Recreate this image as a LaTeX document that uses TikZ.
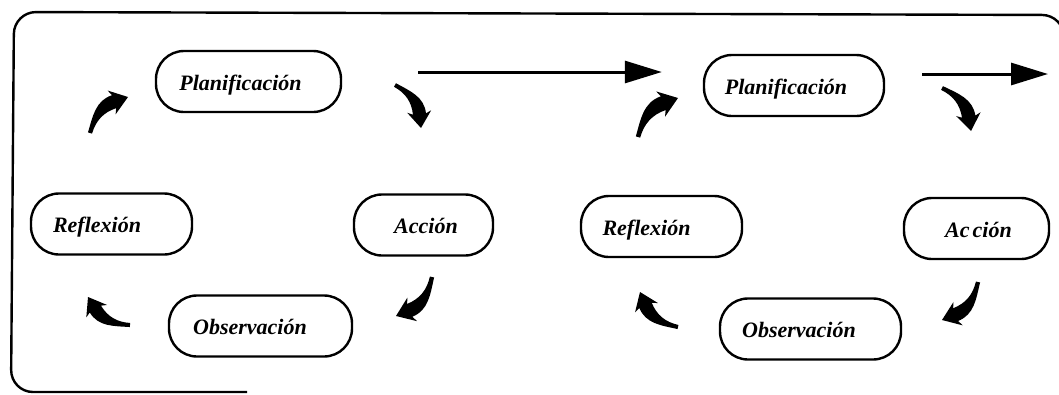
\documentclass[tikz,border=0pt]{standalone}
\usepackage{fontspec}
\setmainfont{Liberation Serif}
\usetikzlibrary{arrows.meta}

\tikzset{
  stage/.style={draw, line width=2.4pt, rounded corners=28pt, minimum height=61pt,
    inner sep=0pt, text height=17pt, text depth=0pt,
    font=\fontsize{22}{24}\selectfont\bfseries\itshape},
  frame/.style={line width=2.4pt, rounded corners=22pt},
  longarrow/.style={line width=3pt, -{Triangle[length=37pt,width=22pt]}},
  arrowbody/.style={fill=black},
}

% Tapered curved arrow from #1 (tail) to #2 (tip), bending clockwise.
\newcommand\cyclearrow[2]{%
  \path (#1); \pgfgetlastxy{\cax}{\cay}%
  \path (#2); \pgfgetlastxy{\cbx}{\cby}%
  \pgfmathsetmacro\cdx{\cbx-(\cax)}%
  \pgfmathsetmacro\cdy{\cby-(\cay)}%
  \pgfmathsetmacro\cnx{-(\cdy)}%
  \begin{scope}[shift={(\cax,\cay)},
      x={(\cdx pt,\cdy pt)}, y={(\cnx pt,\cdx pt)}]
    \fill[arrowbody] (0.02,-0.035) .. controls (0.245,0.095) and (0.455,0.11) .. (0.691,0.0)
      -- (0.599,-0.078) -- (1,0) -- (0.803,0.356) -- (0.801,0.236)
      .. controls (0.502,0.375) and (0.266,0.2) .. (-0.02,0.035) -- cycle;
  \end{scope}}

\begin{document}
\begin{tikzpicture}[x=1pt,y=-1pt]
\useasboundingbox (0,0) rectangle (1059,394);

% outer frame
\draw[frame] (247,392) -- (11,392) -- (14,12) -- (1064,15) -- (1064,80);

% first cycle
\node[stage, minimum width=185pt] (plan1) at (248.5,81.5) {\hspace*{-16pt}Planificación};
\node[stage, minimum width=161pt] (refl1) at (111.5,224) {\hspace*{-29pt}Reflexión};
\node[stage, minimum width=139pt] (acc1) at (423.5,225) {\hspace*{5pt}Acción};
\node[stage, minimum width=183pt] (obs1) at (260.5,326) {\hspace*{-21pt}Observación};

% second cycle
\node[stage, minimum width=180pt] (plan2) at (794,85.5) {\hspace*{-16pt}Planificación};
\node[stage, minimum width=161pt] (refl2) at (661.5,226.5) {\hspace*{-30pt}Reflexión};
\node[stage, minimum width=145pt] (acc2) at (976.5,228.5) {\hspace*{4pt}Ac\kern3pt ción};
\node[stage, minimum width=181pt] (obs2) at (810.5,329) {\hspace*{-23pt}Observación};

% straight arrows between the cycles
\coordinate (go1) at (418,72);
\draw[longarrow, shorten >=41pt] (go1) -- (go1 -| plan2.west);
\coordinate (go2) at (922,74);
\coordinate (next) at (1048,74);
\draw[longarrow] (go2) -- (next);

% curved arrow end points
\coordinate (rp1t) at (90,133);   \coordinate (rp1h) at (128,97);
\coordinate (pa1t) at (395,85);   \coordinate (pa1h) at (421,128);
\coordinate (ao1t) at (432,277);  \coordinate (ao1h) at (396,316);
\coordinate (or1t) at (130,325);  \coordinate (or1h) at (88,297);
\coordinate (rp2t) at (638,137);  \coordinate (rp2h) at (678,98);
\coordinate (pa2t) at (942,88);   \coordinate (pa2h) at (971,131);
\coordinate (ao2t) at (978,282);  \coordinate (ao2h) at (942,320);
\coordinate (or2t) at (678,327);  \coordinate (or2h) at (640,292);

\cyclearrow{rp1t}{rp1h}
\cyclearrow{pa1t}{pa1h}
\cyclearrow{ao1t}{ao1h}
\cyclearrow{or1t}{or1h}
\cyclearrow{rp2t}{rp2h}
\cyclearrow{pa2t}{pa2h}
\cyclearrow{ao2t}{ao2h}
\cyclearrow{or2t}{or2h}
\end{tikzpicture}
\end{document}
